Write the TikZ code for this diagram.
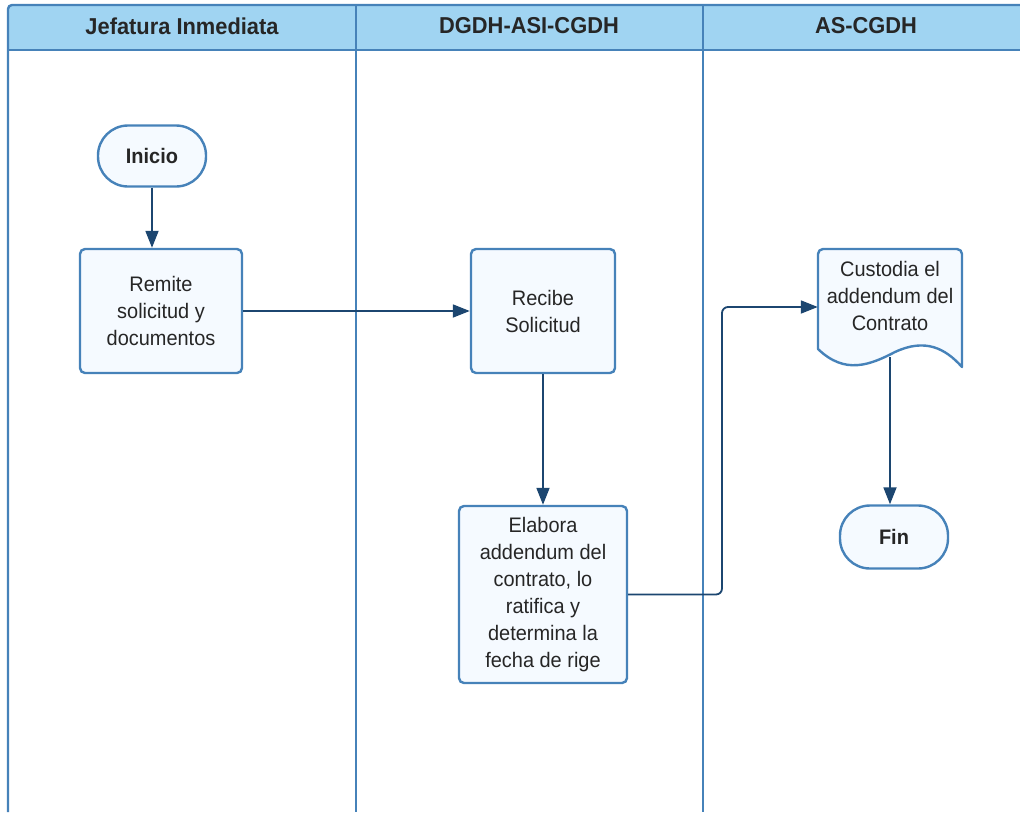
\documentclass[tikz,border=0pt]{standalone}
\usepackage{fontspec}
\setmainfont{Liberation Sans}[FakeStretch=0.95]
\usetikzlibrary{arrows.meta}
\definecolor{lanec}{RGB}{70,130,185}
\definecolor{headc}{RGB}{160,212,242}
\definecolor{nodefill}{RGB}{245,250,255}
\definecolor{linkc}{RGB}{28,70,112}
\definecolor{txt}{RGB}{38,38,38}
\tikzset{
  lane/.style={draw=lanec,line width=2.4pt},
  proc/.style={draw=lanec,fill=nodefill,line width=2.4pt,rounded corners=5pt,align=center,text=txt,font=\fontsize{21}{27}\selectfont,inner sep=0pt},
  term/.style={draw=lanec,fill=nodefill,line width=2.4pt,rounded corners=30pt,align=center,text=txt,font=\bfseries\fontsize{21}{24}\selectfont,inner sep=0pt},
  link/.style={draw=linkc,line width=1.8pt,-{Triangle[length=17pt,width=13pt]}},
  head/.style={font=\bfseries\fontsize{23}{26}\selectfont,text=txt},
}
\begin{document}
\begin{tikzpicture}[x=1pt,y=-1pt]
\useasboundingbox (0,0) rectangle (1020,812);
% header
\path[fill=headc] (8,50) -- (8,10) [rounded corners=4pt]-- (8,5) -- (1030,5) -- (1030,50) -- cycle;
\draw[lane,rounded corners=4pt] (8,812) -- (8,5) -- (1030,5);
\draw[lane] (8,50) -- (1030,50);
\draw[lane] (356,5) -- (356,812);
\draw[lane] (703,5) -- (703,812);
\node[head] (h1) at (182,26) {Jefatura Inmediata};
\node[head] (h2) at (529,26) {DGDH-ASI-CGDH};
\node[head] (h3) at (866,26) {AS-CGDH};
% nodes
\node[term,minimum width=108pt,minimum height=61pt] (inicio) at (152,156) {Inicio};
\node[proc,minimum width=162pt,minimum height=124pt] (remite) at (161,311) {Remite\\solicitud y\\documentos};
\node[proc,minimum width=144pt,minimum height=124pt] (recibe) at (543,311) {Recibe\\Solicitud};
\node[proc,minimum width=168pt,minimum height=177pt] (elabora) at (543,594.5) {Elabora\\addendum del\\contrato, lo\\ratifica y\\determina la\\fecha de rige};
\node[term,minimum width=108pt,minimum height=63pt] (fin) at (894,537) {Fin};
% document shape
\draw[draw=lanec,fill=nodefill,line width=2.4pt,line join=round]
  (818,349) [rounded corners=5pt]-- (818,249) -- (962,249) [sharp corners]-- (962,367)
  .. controls (945,348) and (925,338) .. (895,352)
  .. controls (870,365) and (845,375) .. (818,349) -- cycle;
\node[align=center,text=txt,font=\fontsize{21}{27}\selectfont,minimum width=144pt,minimum height=96pt] (custodia) at (890,296) {Custodia el\\addendum del\\Contrato};
\coordinate (custb) at (890,357);
% connectors
\draw[link] (inicio.south) -- (inicio.south |- remite.north);
\draw[link] (remite.east) -- (recibe.west);
\draw[link] (recibe.south) -- (elabora.north);
\draw[link,rounded corners=6pt] (elabora.east) -- (722,594.5) -- (722,307) -- (custodia.west |- 0,307);
\draw[link] (custb) -- (custb |- fin.north);
\end{tikzpicture}
\end{document}
